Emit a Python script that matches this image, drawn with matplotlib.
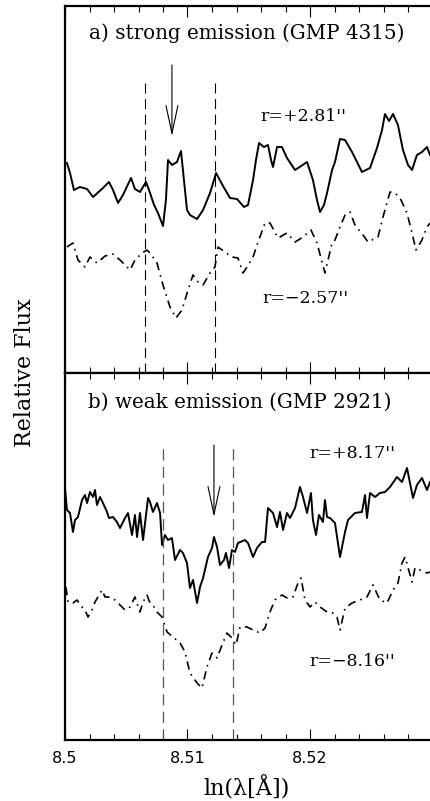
import numpy as np
import matplotlib
matplotlib.use("Agg")
import matplotlib.pyplot as plt

# ---------------- data (ln lambda, relative flux in arbitrary units) ----------------
# Panel a) strong emission (GMP 4315)
a_plus_x = [8.50016, 8.50041, 8.50073, 8.50122, 8.50180, 8.50229, 8.50310, 8.50359, 8.50392, 8.50433,
            8.50473, 8.50539, 8.50571, 8.50612, 8.50661, 8.50686, 8.50727, 8.50759, 8.50800, 8.50824,
            8.50841, 8.50873, 8.50914, 8.50947, 8.50971, 8.50996, 8.51020, 8.51078, 8.51127, 8.51184,
            8.51233, 8.51290, 8.51347, 8.51404, 8.51461, 8.51494, 8.51535, 8.51559, 8.51584, 8.51624,
            8.51657, 8.51682, 8.51698, 8.51731, 8.51771, 8.51812, 8.51878, 8.51976, 8.52024, 8.52057,
            8.52082, 8.52114, 8.52139, 8.52180, 8.52204, 8.52245, 8.52286, 8.52343, 8.52384, 8.52424,
            8.52490, 8.52547, 8.52588, 8.52612, 8.52645, 8.52678, 8.52718, 8.52759, 8.52800, 8.52833,
            8.52873, 8.52914, 8.52955, 8.52980]
a_plus_f = [210, 200, 183, 186, 184, 176, 185, 191, 183, 170,
            178, 195, 184, 181, 191, 183, 168, 160, 147, 173,
            213, 208, 211, 222, 193, 163, 158, 154, 163, 180,
            200, 187, 175, 174, 166, 168, 193, 213, 230, 226,
            228, 213, 206, 226, 226, 215, 203, 211, 193, 173,
            161, 168, 180, 203, 211, 234, 233, 221, 211, 201,
            205, 225, 243, 259, 252, 259, 248, 223, 208, 203,
            218, 221, 226, 218]

a_minus_x = [8.50016, 8.50065, 8.50106, 8.50163, 8.50204, 8.50261, 8.50327, 8.50392, 8.50449, 8.50531,
             8.50571, 8.50629, 8.50669, 8.50694, 8.50751, 8.50800, 8.50857, 8.50906, 8.50955, 8.51004,
             8.51045, 8.51086, 8.51127, 8.51184, 8.51224, 8.51249, 8.51306, 8.51363, 8.51412, 8.51453,
             8.51486, 8.51535, 8.51576, 8.51633, 8.51673, 8.51739, 8.51812, 8.51878, 8.51943, 8.52008,
             8.52057, 8.52122, 8.52180, 8.52204, 8.52245, 8.52286, 8.52327, 8.52367, 8.52433, 8.52473,
             8.52555, 8.52596, 8.52653, 8.52694, 8.52735, 8.52792, 8.52833, 8.52865, 8.52914, 8.52955,
             8.52980]
a_minus_f = [126, 130, 113, 106, 116, 110, 117, 119, 113, 103,
             113, 120, 123, 120, 110, 88, 66, 55, 63, 83,
             98, 91, 88, 100, 106, 126, 121, 116, 115, 100,
             106, 116, 131, 150, 150, 135, 140, 131, 136, 143,
             130, 100, 130, 133, 146, 158, 161, 148, 138, 131,
             136, 156, 181, 180, 175, 160, 140, 123, 133, 146,
             150]

# Panel b) weak emission (GMP 2921)
b_plus_x = [8.50000, 8.50016, 8.50041, 8.50065, 8.50082, 8.50106, 8.50139, 8.50163, 8.50180, 8.50204,
            8.50229, 8.50245, 8.50261, 8.50286, 8.50310, 8.50343, 8.50359, 8.50392, 8.50424, 8.50449,
            8.50490, 8.50514, 8.50547, 8.50571, 8.50588, 8.50612, 8.50637, 8.50678, 8.50694, 8.50718,
            8.50751, 8.50776, 8.50792, 8.50816, 8.50841, 8.50873, 8.50898, 8.50939, 8.50963, 8.50996,
            8.51020, 8.51045, 8.51078, 8.51102, 8.51127, 8.51167, 8.51200, 8.51216, 8.51241, 8.51265,
            8.51298, 8.51314, 8.51339, 8.51363, 8.51388, 8.51412, 8.51469, 8.51494, 8.51535, 8.51567,
            8.51608, 8.51633, 8.51657, 8.51698, 8.51731, 8.51755, 8.51780, 8.51812, 8.51837, 8.51878,
            8.51918, 8.51943, 8.51976, 8.52008, 8.52024, 8.52049, 8.52073, 8.52106, 8.52122, 8.52139,
            8.52163, 8.52204, 8.52245, 8.52286, 8.52310, 8.52367, 8.52424, 8.52449, 8.52465, 8.52490,
            8.52531, 8.52571, 8.52612, 8.52653, 8.52710, 8.52751, 8.52792, 8.52816, 8.52841, 8.52873,
            8.52914, 8.52955, 8.52980]
b_plus_f = [252, 230, 227, 208, 220, 223, 240, 245, 237, 248,
            243, 250, 235, 243, 237, 228, 222, 223, 218, 212,
            222, 227, 205, 225, 203, 227, 200, 242, 238, 228,
            237, 227, 195, 205, 200, 202, 180, 190, 187, 177,
            152, 160, 137, 153, 162, 183, 192, 203, 193, 175,
            180, 187, 172, 190, 188, 197, 200, 197, 183, 192,
            198, 198, 232, 227, 213, 228, 210, 227, 222, 232,
            253, 243, 227, 247, 220, 205, 225, 218, 240, 223,
            222, 217, 183, 208, 220, 227, 228, 245, 222, 247,
            243, 247, 248, 253, 263, 258, 272, 257, 242, 255,
            262, 250, 258]

b_minus_x = [8.50008, 8.50024, 8.50065, 8.50098, 8.50139, 8.50163, 8.50188, 8.50220, 8.50245, 8.50302,
             8.50327, 8.50367, 8.50408, 8.50449, 8.50490, 8.50531, 8.50571, 8.50612, 8.50637, 8.50669,
             8.50694, 8.50727, 8.50751, 8.50792, 8.50833, 8.50882, 8.50939, 8.50980, 8.51020, 8.51078,
             8.51118, 8.51159, 8.51200, 8.51241, 8.51282, 8.51322, 8.51363, 8.51396, 8.51429, 8.51486,
             8.51535, 8.51592, 8.51633, 8.51673, 8.51714, 8.51771, 8.51812, 8.51861, 8.51902, 8.51927,
             8.51959, 8.52000, 8.52041, 8.52082, 8.52139, 8.52188, 8.52220, 8.52245, 8.52286, 8.52343,
             8.52408, 8.52465, 8.52514, 8.52571, 8.52629, 8.52678, 8.52718, 8.52751, 8.52776, 8.52833,
             8.52857, 8.52898, 8.52955, 8.52980]
b_minus_f = [153, 138, 137, 140, 133, 130, 123, 130, 138, 150,
             143, 143, 140, 135, 130, 133, 143, 128, 138, 145,
             137, 133, 128, 123, 108, 103, 97, 88, 67, 57,
             52, 73, 87, 82, 95, 107, 102, 95, 113, 113,
             110, 107, 112, 128, 140, 145, 142, 143, 157, 162,
             140, 133, 138, 133, 128, 127, 123, 110, 132, 137,
             140, 143, 155, 140, 137, 150, 157, 177, 183, 158,
             172, 170, 167, 168]

# feature markers
a_dash_x = [8.50653, 8.51224]
b_dash_x = [8.50800, 8.51371]
a_arrow_x = 8.50873
b_arrow_x = 8.51216

panel_titles = ["a) strong emission (GMP 4315)", "b) weak emission (GMP 2921)"]
plus_labels = ["r=+2.81''", "r=+8.17''"]
minus_labels = ["r=\u22122.57''", "r=\u22128.16''"]
xtick_vals = [8.50, 8.51, 8.52]
xtick_labels = ["8.5", "8.51", "8.52"]

# ---------------- figure ----------------
W, H = 431, 801
fig = plt.figure(figsize=(W / 100, H / 100), dpi=100)

x0 = 8.5
x1 = 8.5 + 366 / 12250.0
left = 65 / W
width = (W - 65) / W
axh = 367 / H
ax_a = fig.add_axes([left, (H - 373) / H, width, axh])
ax_b = fig.add_axes([left, (H - 740) / H, width, axh])

serif = ["DejaVu Serif"]
dashdot = (0, (5, 3, 1, 3))

def style(ax, show_labels):
    ax.set_xlim(x0, x1)
    ax.set_ylim(0, 367)
    ax.set_yticks([])
    ax.spines['right'].set_visible(False)
    for s in ['left', 'top', 'bottom']:
        ax.spines[s].set_linewidth(1.6)
    ax.set_xticks(xtick_vals)
    ax.set_xticks(np.arange(8.5, 8.5299, 0.002), minor=True)
    ax.tick_params(axis='x', which='both', direction='in', top=True, bottom=True)
    ax.tick_params(axis='x', which='major', length=8, width=0.8)
    ax.tick_params(axis='x', which='minor', length=4.5, width=0.8)
    if show_labels:
        ax.set_xticklabels(xtick_labels, fontsize=11.5, family="DejaVu Sans")
        ax.tick_params(axis='x', which='major', pad=8)
    else:
        ax.set_xticklabels([])

style(ax_a, False)
style(ax_b, True)

# panel a
ax_a.plot(a_plus_x, a_plus_f, color='black', lw=1.4)
ax_a.plot(a_minus_x, a_minus_f, color='black', lw=1.2, linestyle=dashdot)
for xv in a_dash_x:
    ax_a.plot([xv, xv], [0, 295], color='black', lw=0.8, linestyle=(0, (9, 5)))
ax_a.annotate("", xy=(a_arrow_x, 237), xytext=(a_arrow_x, 308),
              arrowprops=dict(arrowstyle="->,head_length=2.0,head_width=0.43", lw=0.8, color='black',
                              shrinkA=0, shrinkB=0))

# panel b
ax_b.plot(b_plus_x, b_plus_f, color='black', lw=1.4)
ax_b.plot(b_minus_x, b_minus_f, color='black', lw=1.2, linestyle=dashdot)
for xv in b_dash_x:
    ax_b.plot([xv, xv], [0, 294], color='#555555', lw=0.9, linestyle=(0, (9, 5)))
ax_b.annotate("", xy=(b_arrow_x, 223), xytext=(b_arrow_x, 295),
              arrowprops=dict(arrowstyle="->,head_length=2.0,head_width=0.43", lw=0.8, color='black',
                              shrinkA=0, shrinkB=0))

# texts
fs = 14.3
rfs = 12.5
ax_a.text(0.497, 0.926, panel_titles[0], transform=ax_a.transAxes, ha='center', va='center',
          fontsize=fs, family=serif)
ax_a.text(0.533, 0.700, plus_labels[0], transform=ax_a.transAxes, ha='left', va='center',
          fontsize=rfs, family=serif)
ax_a.text(0.538, 0.204, minus_labels[0], transform=ax_a.transAxes, ha='left', va='center',
          fontsize=rfs, family=serif)
ax_b.text(0.478, 0.921, panel_titles[1], transform=ax_b.transAxes, ha='center', va='center',
          fontsize=fs, family=serif)
ax_b.text(0.669, 0.782, plus_labels[1], transform=ax_b.transAxes, ha='left', va='center',
          fontsize=rfs, family=serif)
ax_b.text(0.669, 0.215, minus_labels[1], transform=ax_b.transAxes, ha='left', va='center',
          fontsize=rfs, family=serif)

fig.text(25 / W, (H - 373) / H, "Relative Flux", rotation=90, ha='center', va='center',
         fontsize=16, family=serif)
fig.text(247 / W, (H - 788) / H, "ln(\u03bb[\u00c5])", ha='center', va='center',
         fontsize=16, family=serif)

fig.savefig("out.png", dpi=100)
